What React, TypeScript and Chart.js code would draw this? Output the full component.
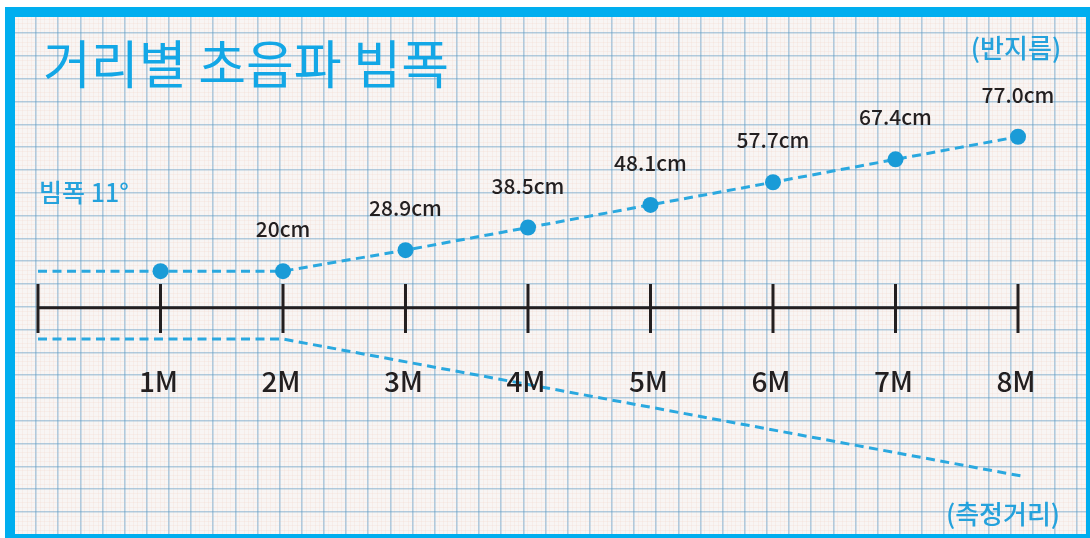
import React, { useEffect, useRef } from "react";
import { Chart, registerables } from "chart.js";

Chart.register(...registerables);

// ---- data ----
const distances = [0, 1, 2, 3, 4, 5, 6, 7, 8];
const radiusCm = [20, 20, 20, 28.9, 38.5, 48.1, 57.7, 67.4, 77.0];
const radiusLabels = ["", "", "20cm", "28.9cm", "38.5cm", "48.1cm", "57.7cm", "67.4cm", "77.0cm"];
const lowerDistances = [0, 2, 8.06];
const lowerCm = [-8.8, -8.8, -67.2];
const axisDistances = [0, 8];
const axisLevel = 4.5;
const tickDistances = [0, 1, 2, 3, 4, 5, 6, 7, 8];
const tickLow = -6.2;
const tickHigh = 14.5;
const tickLabels = ["", "1M", "2M", "3M", "4M", "5M", "6M", "7M", "8M"];
const titleText = "거리별 초음파 빔폭";
const beamText = "빔폭 11°";
const radiusAxisName = "(반지름)";
const distanceAxisName = "(측정거리)";

const BLUE = "#13a7e6";
const LINE_BLUE = "#2aa8df";
const POINT_BLUE = "#1a9bd7";
const DARK = "#231f20";
const KR = "'Noto Sans CJK KR', 'Noto Sans', sans-serif";

const isMajor = (v: number) => Math.abs(v - Math.round(v)) < 1e-6;

const textPlugin = {
  id: "textPlugin",
  afterDatasetsDraw(chart: any) {
    const ctx = chart.ctx as CanvasRenderingContext2D;
    const xs = chart.scales.x;
    const ys = chart.scales.y;
    ctx.save();
    ctx.fillStyle = DARK;
    ctx.font = `500 21px ${KR}`;
    ctx.textAlign = "center";
    ctx.textBaseline = "middle";
    radiusLabels.forEach((lab, i) => {
      if (!lab) return;
      const px = xs.getPixelForValue(distances[i]);
      const py = ys.getPixelForValue(radiusCm[i]);
      ctx.fillText(lab, px, py - 42);
    });
    ctx.font = `500 28px ${KR}`;
    const labelY = ys.getPixelForValue(tickLow) + 48;
    tickLabels.forEach((lab, i) => {
      if (!lab) return;
      ctx.fillText(lab, xs.getPixelForValue(tickDistances[i]) - 2, labelY);
    });
    ctx.fillStyle = BLUE;
    ctx.textAlign = "left";
    ctx.font = `400 52px ${KR}`;
    ctx.fillText(titleText, 28, 47);
    ctx.font = `500 25px ${KR}`;
    ctx.fillStyle = "#25a2dc";
    ctx.fillText(beamText, 24, 175);
    ctx.textAlign = "center";
    ctx.font = `500 26px ${KR}`;
    ctx.fillText(radiusAxisName, 1001, 31);
    ctx.fillText(distanceAxisName, 988, 497);
    ctx.restore();
  },
};

export default function App() {
  const ref = useRef<HTMLCanvasElement | null>(null);

  useEffect(() => {
    if (!ref.current) return;
    const tickData: any[] = [];
    tickDistances.forEach((d) => {
      tickData.push({ x: d, y: tickLow });
      tickData.push({ x: d, y: tickHigh });
      tickData.push({ x: d, y: null });
    });
    const gridColor = (ctx: any) =>
      ctx.tick && isMajor(ctx.tick.value) ? "rgba(88,150,192,0.45)" : "rgba(236,170,150,0.11)";
    const gridWidth = (ctx: any) => (ctx.tick && isMajor(ctx.tick.value) ? 1.6 : 1);

    const common = { xAxisID: "x", yAxisID: "y" };

    const chart = new Chart(ref.current, {
      type: "line",
      data: {
        datasets: [
          {
            ...common,
            label: "axis",
            data: axisDistances.map((d) => ({ x: d, y: axisLevel })),
            borderColor: DARK,
            borderWidth: 3,
            pointRadius: 0,
          },
          {
            ...common,
            label: "ticks",
            data: tickData,
            borderColor: DARK,
            borderWidth: 3,
            pointRadius: 0,
            spanGaps: false,
          },
          {
            ...common,
            label: "lower",
            data: lowerDistances.map((d, i) => ({ x: d, y: lowerCm[i] })),
            borderColor: LINE_BLUE,
            borderWidth: 3,
            borderDash: [9, 5.5],
            pointRadius: 0,
          },
          {
            ...common,
            label: "radius",
            data: distances.map((d, i) => ({ x: d, y: radiusCm[i] })),
            borderColor: LINE_BLUE,
            borderWidth: 3,
            borderDash: [9, 5.5],
            pointRadius: (c: any) => (c.dataIndex === 0 ? 0 : 8),
            pointBackgroundColor: POINT_BLUE,
            pointBorderWidth: 0,
          },
        ],
      },
      options: {
        animation: false,
        responsive: false,
        events: [],
        layout: { padding: 0, autoPadding: false },
        plugins: { legend: { display: false }, tooltip: { enabled: false }, title: { display: false } },
        scales: {
          gx: {
            type: "linear",
            position: "bottom",
            min: -21 / 22.15,
            max: (1071 - 21) / 22.15,
            ticks: { display: false, stepSize: 0.2, includeBounds: false, maxTicksLimit: 1000 },
            grid: { color: gridColor, lineWidth: gridWidth, drawTicks: false },
            border: { display: false },
          },
          gy: {
            type: "linear",
            position: "left",
            reverse: true,
            min: -16.1 / 22.8,
            max: (517 - 16.1) / 22.8,
            ticks: { display: false, stepSize: 0.2, includeBounds: false, maxTicksLimit: 1000 },
            grid: { color: gridColor, lineWidth: gridWidth, drawTicks: false },
            border: { display: false },
          },
          x: {
            type: "linear",
            display: false,
            min: -23 / 122.5,
            max: (1071 - 23) / 122.5,
          },
          y: {
            type: "linear",
            display: false,
            min: (301.3 - 517) / 2.358,
            max: 301.3 / 2.358,
          },
        },
      },
      plugins: [textPlugin],
    } as any);
    return () => chart.destroy();
  }, []);

  return (
    <div
      style={{
        position: "fixed",
        left: 0,
        top: 0,
        width: 1090,
        height: 538,
        overflow: "hidden",
        background: "#ffffff",
      }}
    >
      <div
        style={{
          position: "absolute",
          left: 5,
          top: 7,
          width: 1091,
          height: 537,
          boxSizing: "border-box",
          border: "10px solid #00aeef",
          background: "#f8f5f4",
        }}
      >
        <canvas ref={ref} width={1071} height={517} style={{ display: "block", width: 1071, height: 517 }} />
      </div>
    </div>
  );
}
